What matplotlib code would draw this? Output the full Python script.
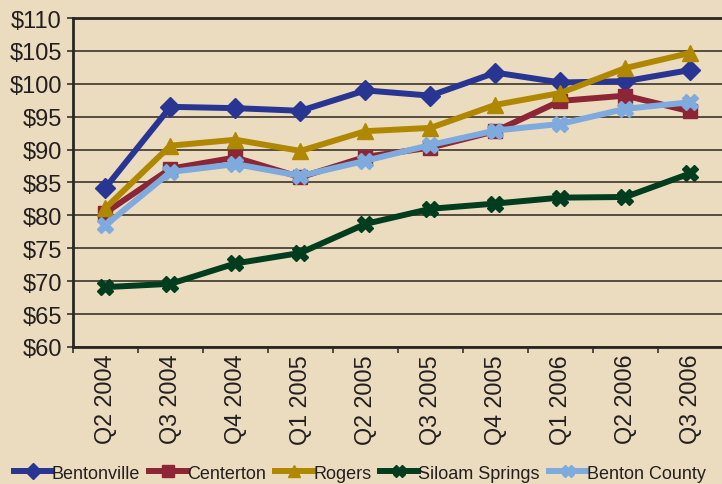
import matplotlib
matplotlib.use('Agg')
import matplotlib.pyplot as plt
from matplotlib.ticker import FixedLocator, FuncFormatter

plt.rcParams['font.family'] = ['Liberation Sans', 'DejaVu Sans']

# Quarterly values by market
quarters = ['Q2 2004', 'Q3 2004', 'Q4 2004', 'Q1 2005', 'Q2 2005',
            'Q3 2005', 'Q4 2005', 'Q1 2006', 'Q2 2006', 'Q3 2006']
bentonville = [84.2, 96.5, 96.3, 95.9, 99.0, 98.2, 101.7, 100.2, 100.4, 102.1]
centerton = [80.4, 87.1, 88.8, 85.8, 88.9, 90.3, 92.8, 97.4, 98.2, 95.8]
rogers = [81.1, 90.6, 91.5, 89.8, 92.8, 93.3, 96.8, 98.6, 102.4, 104.7]
siloam_springs = [69.1, 69.6, 72.7, 74.3, 78.7, 81.0, 81.8, 82.7, 82.8, 86.4]
benton_county = [78.5, 86.6, 87.8, 86.0, 88.3, 90.7, 92.9, 93.9, 96.2, 97.2]

series = [
    ('Bentonville', bentonville, '#283593', 'D', 10),
    ('Centerton', centerton, '#8c2535', 's', 9.5),
    ('Rogers', rogers, '#b08800', '^', 11),
    ('Siloam Springs', siloam_springs, '#003d1f', 'X', 11),
    ('Benton County', benton_county, '#7eaadd', 'X', 11),
]

bg = '#ecdcbf'
fig = plt.figure(figsize=(7.22, 4.85), dpi=100, facecolor=bg)
ax = fig.add_axes([0.101, 0.2825, 0.9003, 0.6783], facecolor=bg)

x = list(range(len(quarters)))
for name, vals, col, mk, ms in series:
    ax.plot(x, vals, color=col, lw=4.3, marker=mk, markersize=ms,
            markerfacecolor=col, markeredgecolor=col, label=name, zorder=3)

ax.set_xlim(-0.5, len(quarters) - 0.5)
ax.set_ylim(60, 110)
ax.set_yticks(range(60, 111, 5))
ax.yaxis.set_major_formatter(FuncFormatter(lambda v, p: f'${v:.0f}'))
ax.yaxis.grid(True, color='#4a4236', lw=1.3, zorder=1)

ax.set_xticks(x)
ax.set_xticklabels(quarters, rotation=90, fontsize=16.8, color='#231f20')
ax.xaxis.set_minor_locator(FixedLocator([i - 0.5 for i in range(len(quarters) + 1)]))
ax.tick_params(axis='x', which='major', length=0, pad=5)
ax.tick_params(axis='x', which='minor', length=4, width=1.2, color='#333333', direction='out')
ax.tick_params(axis='y', labelsize=17, labelcolor='#231f20', length=4, width=1.2,
               color='#333333', pad=4)

for side in ['left', 'bottom', 'top']:
    ax.spines[side].set_color('#2a2623')
    ax.spines[side].set_linewidth(2)
ax.spines['right'].set_visible(False)

leg = fig.legend(loc='lower left', bbox_to_anchor=(0.007, -0.014), ncol=5, frameon=False,
                 fontsize=13.0, handlelength=2.1, handletextpad=0.0,
                 columnspacing=0.5, borderaxespad=0.2, borderpad=0.3,
                 markerscale=0.85)
for t in leg.get_texts():
    t.set_color('#231f20')

fig.savefig('out.png', dpi=100, facecolor=bg)
